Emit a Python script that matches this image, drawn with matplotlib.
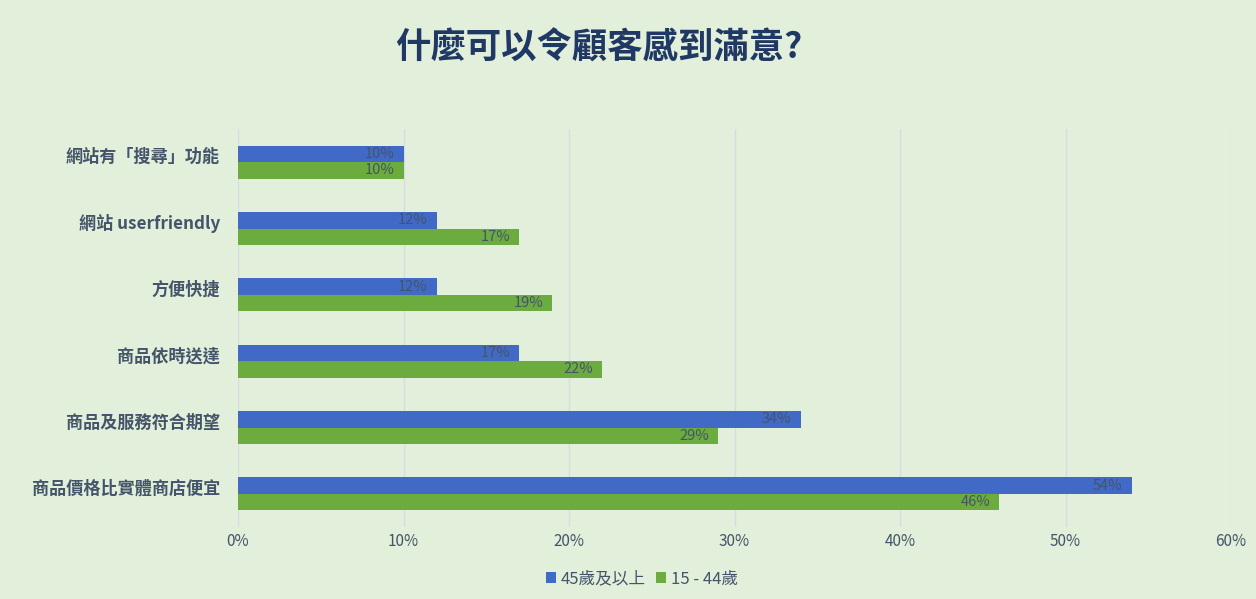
import numpy as np
import matplotlib
matplotlib.use('Agg')
import matplotlib.pyplot as plt
import matplotlib.transforms as mtransforms
from matplotlib.ticker import PercentFormatter

plt.rcParams['font.family'] = ['Noto Sans CJK TC', 'DejaVu Sans']

# data (top to bottom as shown)
categories = ['網站有「搜尋」功能', '網站 userfriendly', '方便快捷',
              '商品依時送達', '商品及服務符合期望', '商品價格比實體商店便宜']
age_45_plus = [10, 12, 12, 17, 34, 54]
age_15_44 = [10, 17, 19, 22, 29, 46]
series_names = ['45歲及以上', '15 - 44歲']

bg = '#E2EFDA'
txt = '#44546A'
blue = '#4169C6'
green = '#6CAC3E'

fig = plt.figure(figsize=(12.56, 5.99), dpi=100, facecolor=bg)
ax = fig.add_axes([238 / 1256, 1 - 527 / 599, (1231 - 238) / 1256, (527 - 129) / 599])
ax.set_facecolor(bg)

y = np.arange(len(categories))
h = 0.25
b1 = ax.barh(y - h / 2, age_45_plus, height=h, color=blue, label=series_names[0], zorder=3)
b2 = ax.barh(y + h / 2, age_15_44, height=h, color=green, label=series_names[1], zorder=3)

for bars, vals in [(b1, age_45_plus), (b2, age_15_44)]:
    for bar, v in zip(bars, vals):
        ax.text(bar.get_width() - 0.55, bar.get_y() + bar.get_height() / 2, f'{v}%',
                ha='right', va='center', fontsize=10.5, color=txt, zorder=4)

ax.set_ylim(len(categories) - 0.5, -0.5)
ax.set_xlim(0, 60)
ax.set_xticks(np.arange(0, 61, 10))
ax.xaxis.set_major_formatter(PercentFormatter(decimals=0))
ax.set_yticks(y)
ax.set_yticklabels(categories, fontsize=12.3, color=txt, fontweight='bold')
ax.tick_params(axis='x', colors=txt, labelsize=11, length=0, pad=4)
ax.tick_params(axis='y', length=0, pad=13)
# labels sit a little above the group centre
shift = mtransforms.ScaledTranslation(0, 0.07, fig.dpi_scale_trans)
for lab in ax.get_yticklabels():
    lab.set_transform(lab.get_transform() + shift)
ax.grid(axis='x', color='#D5DCE4', linewidth=1, zorder=0)
for s in ax.spines.values():
    s.set_visible(False)

fig.text(599 / 1256, 1 - 48 / 599, '什麼可以令顧客感到滿意?', ha='center', va='center',
         fontsize=25.5, fontweight='bold', color='#1F3864')

leg = fig.legend(handles=[b1, b2], labels=series_names, loc='center',
                 bbox_to_anchor=(642 / 1256, 1 - 579 / 599), ncol=2, frameon=False,
                 fontsize=12, handlelength=0.6, handleheight=0.6,
                 handletextpad=0.3, columnspacing=0.6)
for t in leg.get_texts():
    t.set_color(txt)

fig.savefig('out.png', dpi=100, facecolor=bg)
